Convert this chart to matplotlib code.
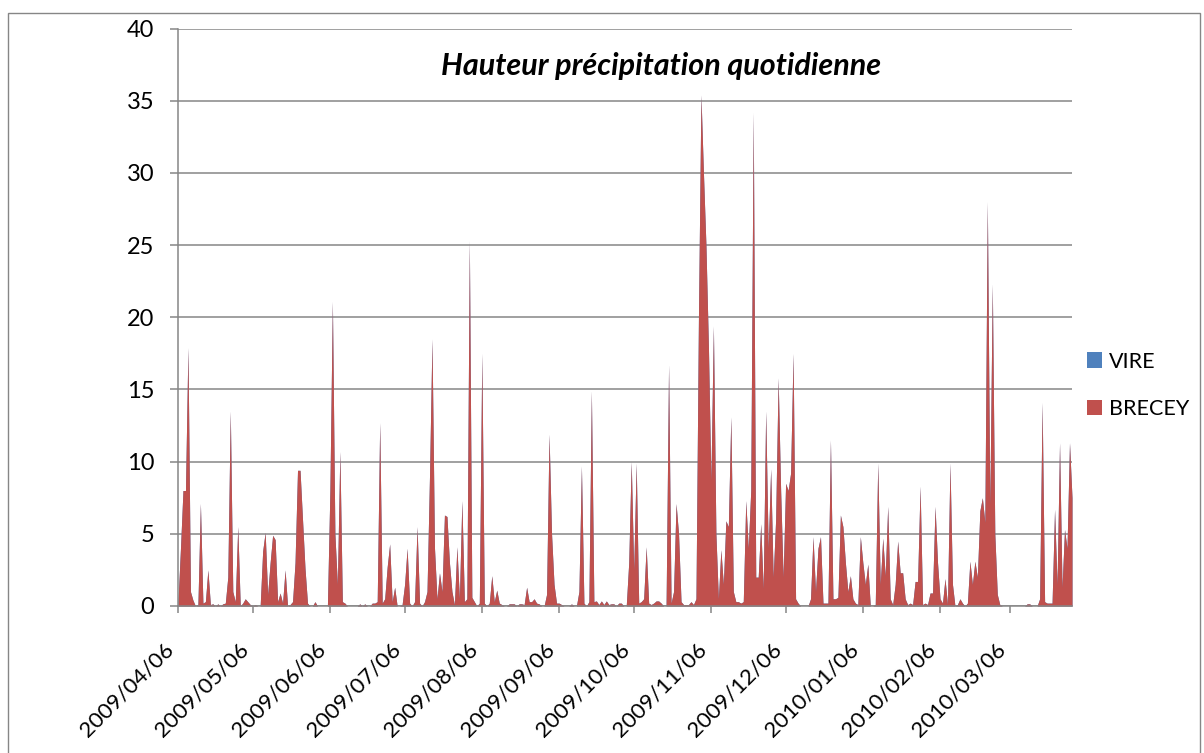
import matplotlib
matplotlib.use('Agg')
import matplotlib.pyplot as plt
from matplotlib.patches import Patch, Rectangle
from matplotlib.transforms import ScaledTranslation
import pandas as pd

# ---------------- data ----------------
start_date = '2009-04-06'

# BRECEY daily precipitation (mm), one value per day from 2009/04/06
brecey = [
    0.3, 4.0, 8.0, 8.0, 17.9, 1.0, 0.4, 0.0, 0.1, 7.1,        # 0-9
    0.2, 0.3, 2.5, 0.1, 0.15, 0.0, 0.15, 0.0, 0.15, 0.2,      # 10-19
    2.0, 13.5, 1.0, 0.3, 5.5, 0.0, 0.2, 0.5, 0.3, 0.1,        # 20-29
    0.0, 0.1, 0.0, 0.0, 3.8, 5.1, 0.8, 3.0, 4.9, 4.6,         # 30-39
    0.3, 0.9, 0.2, 2.5, 0.0, 0.1, 0.3, 3.0, 9.4, 9.4,         # 40-49
    6.0, 2.6, 0.2, 0.0, 0.0, 0.3, 0.0, 0.0, 0.0, 0.0,         # 50-59
    0.0, 8.0, 21.1, 5.0, 1.5, 10.7, 0.3, 0.2, 0.0, 0.0,       # 60-69
    0.0, 0.0, 0.0, 0.15, 0.0, 0.15, 0.0, 0.0, 0.2, 0.2,       # 70-79
    0.3, 12.7, 0.2, 0.5, 2.7, 4.3, 0.3, 1.3, 0.0, 0.0,        # 80-89
    0.1, 1.5, 4.0, 0.2, 0.0, 0.3, 5.5, 0.2, 0.0, 0.3,         # 90-99
    1.0, 9.0, 18.5, 4.0, 0.5, 2.3, 1.0, 6.3, 6.2, 3.0,        # 100-109
    1.0, 0.1, 4.1, 0.5, 7.3, 0.3, 0.5, 25.3, 0.6, 0.3,        # 110-119
    0.0, 0.2, 17.5, 0.2, 0.0, 0.2, 2.1, 0.3, 1.1, 0.2,        # 120-129
    0.1, 0.0, 0.0, 0.15, 0.15, 0.15, 0.0, 0.15, 0.15, 0.1,    # 130-139
    1.3, 0.3, 0.3, 0.5, 0.2, 0.15, 0.0, 0.0, 0.8, 11.9,       # 140-149
    5.0, 1.5, 0.2, 0.2, 0.1, 0.0, 0.0, 0.0, 0.15, 0.0,        # 150-159
    0.0, 1.0, 9.7, 0.2, 0.0, 0.3, 14.9, 0.3, 0.35, 0.1,       # 160-169
    0.35, 0.1, 0.35, 0.1, 0.15, 0.15, 0.0, 0.2, 0.2, 0.0,     # 170-179
    0.0, 3.0, 10.0, 2.5, 9.9, 0.2, 0.3, 0.5, 4.1, 0.2,        # 180-189
    0.1, 0.2, 0.35, 0.35, 0.2, 0.0, 0.0, 16.7, 0.2, 1.0,      # 190-199
    7.1, 5.0, 0.3, 0.1, 0.1, 0.1, 0.3, 0.1, 0.5, 20.0,        # 200-209
    35.4, 30.0, 25.0, 18.0, 8.7, 19.4, 5.0, 0.5, 3.9, 1.5,    # 210-219
    5.9, 5.5, 13.1, 1.0, 0.3, 0.3, 0.2, 0.3, 7.3, 4.0,        # 220-229
    8.0, 34.2, 2.0, 2.0, 5.7, 1.2, 13.5, 4.0, 9.5, 2.0,       # 230-239
    6.0, 15.8, 8.0, 2.0, 8.5, 8.0, 9.2, 17.5, 0.5, 0.2,       # 240-249
    0.0, 0.0, 0.0, 0.0, 0.5, 4.8, 1.0, 4.0, 4.8, 0.2,         # 250-259
    0.2, 0.2, 11.5, 0.5, 0.5, 0.6, 6.3, 5.5, 3.0, 1.0,        # 260-269
    2.1, 0.5, 0.2, 0.1, 4.8, 3.0, 1.5, 2.9, 0.0, 0.0,         # 270-279
    0.1, 9.9, 1.5, 4.7, 2.1, 6.9, 0.5, 0.1, 1.5, 4.5,         # 280-289
    2.3, 2.3, 0.5, 0.1, 0.2, 0.1, 1.7, 1.7, 8.3, 0.1,         # 290-299
    0.2, 0.1, 0.9, 0.9, 6.9, 3.0, 0.5, 0.2, 1.9, 0.1,         # 300-309
    9.9, 1.5, 0.0, 0.1, 0.5, 0.2, 0.0, 0.2, 3.1, 1.5,         # 310-319
    3.1, 2.0, 6.6, 7.5, 5.8, 28.0, 7.0, 22.3, 5.0, 0.8,       # 320-329
    0.1, 0.0, 0.0, 0.0, 0.0, 0.0, 0.0, 0.0, 0.0, 0.0,         # 330-339
    0.0, 0.15, 0.15, 0.0, 0.0, 0.0, 0.5, 14.1, 0.3, 0.2,      # 340-349
    0.2, 0.2, 6.7, 1.5, 11.3, 1.3, 5.3, 4.0, 11.3, 7.5,       # 350-359
]
# VIRE is entirely hidden behind BRECEY in the picture (same outline)
vire = list(brecey)

series_names = ['VIRE', 'BRECEY']
series_colors = ['#4F81BD', '#C0504D']
tick_labels = ['2009/04/06', '2009/05/06', '2009/06/06', '2009/07/06',
               '2009/08/06', '2009/09/06', '2009/10/06', '2009/11/06',
               '2009/12/06', '2010/01/06', '2010/02/06', '2010/03/06']
y_ticks = [0, 5, 10, 15, 20, 25, 30, 35, 40]
title = 'Hauteur précipitation quotidienne'

# ---------------- figure ----------------
FONT = ['Lato', 'DejaVu Sans']
plt.rcParams['font.family'] = FONT
GRID = '#868686'

W, H = 1204, 753
fig = plt.figure(figsize=(W / 100, H / 100), dpi=100)
fig.patch.set_facecolor('white')

# outer chart border
fig.patches.append(Rectangle((7.5 / W, -20 / H), (1199.5 - 7.5) / W, (H - 12.7 + 20) / H,
                             transform=fig.transFigure, fill=False,
                             edgecolor=GRID, linewidth=1.0))

ax = fig.add_axes([178 / W, 1 - 606 / H, (1072 - 178) / W, (606 - 28.6) / H])

dates = pd.date_range(start_date, periods=len(brecey), freq='D')
ax.fill_between(dates, 0, vire, color=series_colors[0], linewidth=0, zorder=2)
ax.fill_between(dates, 0, brecey, color=series_colors[1], linewidth=0, zorder=3)

ax.set_xlim(dates[0], dates[-1])
ax.set_ylim(0, 40)
ax.set_yticks(y_ticks)
ax.set_yticklabels([str(v) for v in y_ticks], fontsize=17)

tick_dates = pd.to_datetime(tick_labels, format='%Y/%m/%d')
ax.set_xticks(tick_dates)
ax.set_xticklabels(tick_labels, rotation=45, ha='right', va='top', fontsize=16)
offset = ScaledTranslation(5 / 100, 0, fig.dpi_scale_trans)
for lab in ax.get_xticklabels():
    lab.set_transform(lab.get_transform() + offset)

ax.yaxis.grid(True, color=GRID, linewidth=1.1)
ax.set_axisbelow(True)
for s in ['top', 'right']:
    ax.spines[s].set_visible(False)
for s in ['left', 'bottom']:
    ax.spines[s].set_color(GRID)
    ax.spines[s].set_linewidth(1.1)
    ax.spines[s].set_zorder(4)
ax.tick_params(axis='x', length=5, width=1.1, color=GRID, pad=19)
ax.tick_params(axis='y', length=6, width=1.1, color=GRID, pad=11)

fig.text(661 / W, 1 - 66 / H, title, ha='center', va='center', fontsize=22,
         fontweight='bold', style='italic', family=FONT)

handles = [Patch(facecolor=c, edgecolor='none') for c in series_colors]
fig.legend(handles, series_names, loc='upper left',
           bbox_to_anchor=(1087 / W, 1 - 351.5 / H), frameon=False,
           fontsize=15.5, handlelength=0.7, handleheight=0.7, handletextpad=0.3,
           labelspacing=1.28, borderpad=0, borderaxespad=0)

fig.savefig('out.png', dpi=100)
